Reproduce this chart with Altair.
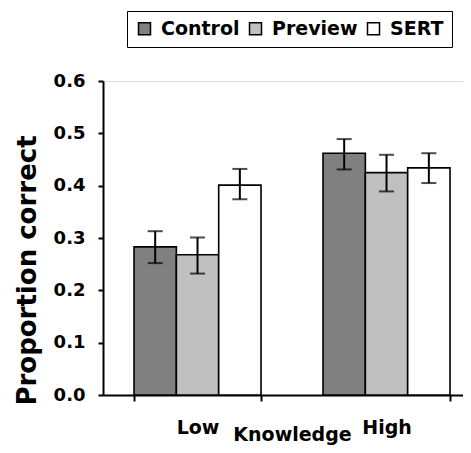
import altair as alt
import pandas as pd

groups = ["Low", "High"]
conditions = ["Control", "Preview", "SERT"]
colors = ["#808080", "#c0c0c0", "#ffffff"]

mean_low = [0.283, 0.268, 0.401]
mean_high = [0.462, 0.425, 0.434]
lower_low = [0.252, 0.232, 0.374]
upper_low = [0.313, 0.301, 0.432]
lower_high = [0.431, 0.389, 0.405]
upper_high = [0.489, 0.459, 0.462]

rows = []
for g, means, los, his in [("Low", mean_low, lower_low, upper_low),
                           ("High", mean_high, lower_high, upper_high)]:
    for c, m, lo, hi in zip(conditions, means, los, his):
        rows.append({"Knowledge": g, "Condition": c, "mean": m, "lo": lo, "hi": hi})
df = pd.DataFrame(rows)

FONT = "DejaVu Sans"

x_scale = alt.Scale(paddingInner=0.328, paddingOuter=0.1164, align=0.705)
x_enc = alt.X("Knowledge:N", sort=groups, scale=x_scale,
              axis=alt.Axis(title="Knowledge", labelAngle=0, tickBand="extent",
                            labelFontSize=19, labelFont=FONT, labelFontWeight="bold",
                            labelColor="black", labelBaseline="alphabetic", labelPadding=32,
                            tickSize=6, tickColor="black", tickWidth=2,
                            domainColor="black", domainWidth=2,
                            titleFontSize=19, titleFont=FONT, titleFontWeight="bold",
                            titleColor="black", titleX=189, titleY=45,
                            titleBaseline="alphabetic", titleAlign="center"))
xo_enc = alt.XOffset("Condition:N", sort=conditions,
                     scale=alt.Scale(paddingInner=0, paddingOuter=0))
y_scale = alt.Scale(domain=[0, 0.6], nice=False)
y_axis = alt.Axis(title="Proportion correct", values=[0, 0.1, 0.2, 0.3, 0.4, 0.5, 0.6],
                  format=".1f", grid=False,
                  labelFontSize=18, labelFont=FONT, labelFontWeight="bold",
                  labelColor="black", labelPadding=13,
                  tickSize=5, tickColor="black", tickWidth=2,
                  domainColor="black", domainWidth=2,
                  titleFontSize=26, titleFont=FONT, titleFontWeight="bold",
                  titleColor="black", titleX=-76, titleY=189, titleAngle=-90,
                  titleAlign="center", titleBaseline="middle")

bars = alt.Chart(df).mark_bar(stroke="black", strokeWidth=1.6).encode(
    x=x_enc,
    xOffset=xo_enc,
    y=alt.Y("mean:Q", scale=y_scale, axis=y_axis),
    fill=alt.Fill("Condition:N", sort=conditions,
                  scale=alt.Scale(domain=conditions, range=colors),
                  legend=alt.Legend(title=None, orient="none", legendX=24, legendY=-70,
                                    direction="horizontal", strokeColor="black",
                                    padding=8, symbolType="square", symbolSize=144,
                                    symbolStrokeColor="black", symbolStrokeWidth=1.5,
                                    labelFontSize=19, labelFont=FONT, labelFontWeight="bold",
                                    labelColor="black", labelOffset=7, columnPadding=6)),
)

rules = alt.Chart(df).mark_rule(color="black", strokeWidth=2).encode(
    x=alt.X("Knowledge:N", sort=groups, scale=x_scale),
    xOffset=xo_enc,
    y=alt.Y("lo:Q", scale=y_scale),
    y2="hi:Q",
)
cap_lo = alt.Chart(df).mark_tick(color="black", thickness=2, size=15).encode(
    x=alt.X("Knowledge:N", sort=groups, scale=x_scale),
    xOffset=xo_enc,
    y=alt.Y("lo:Q", scale=y_scale),
)
cap_hi = alt.Chart(df).mark_tick(color="black", thickness=2, size=15).encode(
    x=alt.X("Knowledge:N", sort=groups, scale=x_scale),
    xOffset=xo_enc,
    y=alt.Y("hi:Q", scale=y_scale),
)

chart = alt.layer(bars, rules, cap_lo, cap_hi).properties(
    width=360, height=314,
    padding={"left": 95, "top": 73, "right": 0, "bottom": 50},
    autosize=alt.AutoSizeParams(type="none"),
).configure_view(strokeWidth=0).configure(background="white")

chart.save("out.html", embed_options={"renderer": "svg", "actions": False})
